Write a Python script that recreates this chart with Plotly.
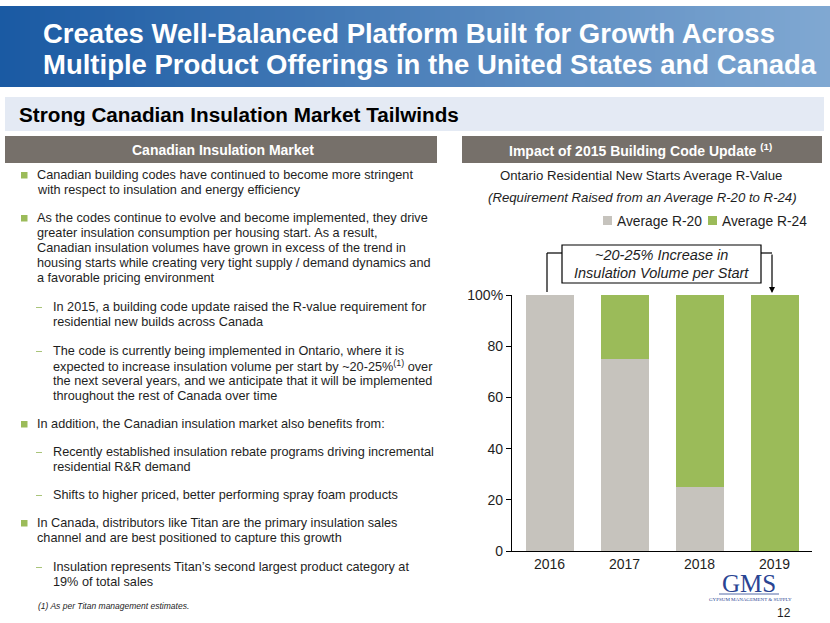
import plotly.graph_objects as go

# ---------------- data ----------------
years = ["2016", "2017", "2018", "2019"]
share_r20 = [100, 75, 25, 0]
share_r24 = [0, 25, 75, 100]
series_names = ["Average R-20", "Average R-24"]
y_tick_vals = [0, 20, 40, 60, 80, 100]
y_tick_text = ["0", "20", "40", "60", "80", "100%"]

title_lines = [
    "Creates Well-Balanced Platform Built for Growth Across",
    "Multiple Product Offerings in the United States and Canada",
]
section_title = "Strong Canadian Insulation Market Tailwinds"
left_header = "Canadian Insulation Market"
right_header = "Impact of 2015 Building Code Update <sup>(1)</sup>"
chart_title = "Ontario Residential New Starts Average R-Value"
chart_subtitle = "(Requirement Raised from an Average R-20 to R-24)"
callout_lines = ["~20-25% Increase in", "Insulation Volume per Start"]
footnote = "(1) As per Titan management estimates."

# (kind, y-position in px, text)  kind: b=bullet start, c=continuation, d=dash start, s=dash continuation
body_lines = [
    ("b", 175, "Canadian building codes have continued to become more stringent"),
    ("c", 190, "with respect to insulation and energy efficiency"),
    ("b", 218, "As the codes continue to evolve and become implemented, they drive"),
    ("c", 233, "greater insulation consumption per housing start. As a result,"),
    ("c", 248, "Canadian insulation volumes have grown in excess of the trend in"),
    ("c", 263, "housing starts while creating very tight supply / demand dynamics and"),
    ("c", 278, "a favorable pricing environment"),
    ("d", 307, "In 2015, a building code update raised the R-value requirement for"),
    ("s", 322, "residential new builds across Canada"),
    ("d", 351, "The code is currently being implemented in Ontario, where it is"),
    ("s", 366, "expected to increase insulation volume per start by ~20-25%<sup>(1)</sup> over"),
    ("s", 381, "the next several years, and we anticipate that it will be implemented"),
    ("s", 396, "throughout the rest of Canada over time"),
    ("b", 424, "In addition, the Canadian insulation market also benefits from:"),
    ("d", 452, "Recently established insulation rebate programs driving incremental"),
    ("s", 467, "residential R&R demand"),
    ("d", 495, "Shifts to higher priced, better performing spray foam products"),
    ("b", 523, "In Canada, distributors like Titan are the primary insulation sales"),
    ("c", 538, "channel and are best positioned to capture this growth"),
    ("d", 567, "Insulation represents Titan\u2019s second largest product category at"),
    ("s", 582, "19% of total sales"),
]

# ---------------- helpers ----------------
W, H = 830, 623
def px(x):
    return x / W
def py(y):
    return 1 - y / H

FONT = "Arial, Liberation Sans, sans-serif"
GRAY_BAR = "#c6c3bd"
GREEN = "#9bbb59"
HEADER = "#76706a"
TXT = "#1e1e1e"

fig = go.Figure()
fig.add_trace(go.Bar(x=years, y=share_r20, name=series_names[0],
                     marker=dict(color=GRAY_BAR, line=dict(width=0)), showlegend=False))
fig.add_trace(go.Bar(x=years, y=share_r24, name=series_names[1],
                     marker=dict(color=GREEN, line=dict(width=0)), showlegend=False))

shapes = []
annotations = []

# title banner gradient
N = 166
c0 = (26, 90, 163)
c1 = (128, 168, 210)
for i in range(N):
    t = i / (N - 1)
    col = tuple(int(round(c0[k] + (c1[k] - c0[k]) * t)) for k in range(3))
    x0 = W * i / N
    x1 = W * (i + 1) / N + 0.6
    shapes.append(dict(type="rect", xref="paper", yref="paper",
                       x0=px(x0), x1=px(min(x1, W)), y0=py(87), y1=py(6),
                       fillcolor="rgb(%d,%d,%d)" % col, line=dict(width=0), layer="below"))
for i, line in enumerate(title_lines):
    annotations.append(dict(xref="paper", yref="paper", x=px(41), y=py(33.5 + 31 * i),
                            xanchor="left", yanchor="middle", showarrow=False, text="<b>%s</b>" % line,
                            font=dict(family=FONT, size=27.5, color="white")))

# section band
shapes.append(dict(type="rect", xref="paper", yref="paper", x0=px(5), x1=px(824), y0=py(131), y1=py(97),
                   fillcolor="#e4eaf4", line=dict(width=0), layer="below"))
annotations.append(dict(xref="paper", yref="paper", x=px(17), y=py(115), xanchor="left", yanchor="middle",
                        showarrow=False, text="<b>%s</b>" % section_title,
                        font=dict(family=FONT, size=20.7, color="black")))

# header bars
shapes.append(dict(type="rect", xref="paper", yref="paper", x0=px(5), x1=px(437), y0=py(163), y1=py(136),
                   fillcolor=HEADER, line=dict(width=0), layer="below"))
shapes.append(dict(type="rect", xref="paper", yref="paper", x0=px(462), x1=px(822), y0=py(163), y1=py(136),
                   fillcolor=HEADER, line=dict(width=0), layer="below"))
annotations.append(dict(xref="paper", yref="paper", x=px(223), y=py(150), xanchor="center", yanchor="middle",
                        showarrow=False, text="<b>%s</b>" % left_header,
                        font=dict(family=FONT, size=14, color="white")))
annotations.append(dict(xref="paper", yref="paper", x=px(640), y=py(150), xanchor="center", yanchor="middle",
                        showarrow=False, text="<b>%s</b>" % right_header,
                        font=dict(family=FONT, size=14, color="white")))

# body text
for kind, yy, text in body_lines:
    if kind == "b":
        shapes.append(dict(type="rect", xref="paper", yref="paper", x0=px(21), x1=px(27.5),
                           y0=py(yy + 3.5), y1=py(yy - 3), fillcolor=GREEN, line=dict(width=0)))
    if kind == "d":
        shapes.append(dict(type="line", xref="paper", yref="paper", x0=px(36), x1=px(42),
                           y0=py(yy + 0.5), y1=py(yy + 0.5), line=dict(color="#a9c47a", width=1)))
    xx = 35 if kind in ("b", "c") else 51
    annotations.append(dict(xref="paper", yref="paper", x=px(xx), y=py(yy), xanchor="left", yanchor="middle",
                            showarrow=False, text=text, font=dict(family=FONT, size=12.7, color=TXT)))
annotations.append(dict(xref="paper", yref="paper", x=px(36), y=py(606), xanchor="left", yanchor="middle",
                        showarrow=False, text="<i>%s</i>" % footnote,
                        font=dict(family=FONT, size=8.5, color=TXT)))

# chart titles
annotations.append(dict(xref="paper", yref="paper", x=px(641), y=py(175), xanchor="center", yanchor="middle",
                        showarrow=False, text=chart_title, font=dict(family=FONT, size=13.2, color=TXT)))
annotations.append(dict(xref="paper", yref="paper", x=px(642), y=py(197), xanchor="center", yanchor="middle",
                        showarrow=False, text="<i>%s</i>" % chart_subtitle,
                        font=dict(family=FONT, size=13.2, color=TXT)))

# custom legend
for (x0, name, col) in [(603, series_names[0], GRAY_BAR), (708, series_names[1], GREEN)]:
    shapes.append(dict(type="rect", xref="paper", yref="paper", x0=px(x0), x1=px(x0 + 9),
                       y0=py(225), y1=py(216), fillcolor=col, line=dict(width=0)))
    annotations.append(dict(xref="paper", yref="paper", x=px(x0 + 12), y=py(221), xanchor="left",
                            yanchor="middle", showarrow=False, text=name,
                            font=dict(family=FONT, size=13.8, color=TXT)))

# callout box and connectors
shapes.append(dict(type="rect", xref="paper", yref="paper", x0=px(562), x1=px(761), y0=py(283), y1=py(245),
                   fillcolor="white", line=dict(color="black", width=1.2)))
shapes.append(dict(type="line", xref="paper", yref="paper", x0=px(547), x1=px(547), y0=py(253), y1=py(292),
                   line=dict(color="black", width=1.2)))
shapes.append(dict(type="line", xref="paper", yref="paper", x0=px(547), x1=px(562), y0=py(253), y1=py(253),
                   line=dict(color="black", width=1.2)))
shapes.append(dict(type="line", xref="paper", yref="paper", x0=px(761), x1=px(772), y0=py(253), y1=py(253),
                   line=dict(color="black", width=1.2)))
annotations.append(dict(xref="paper", yref="paper", x=px(772), y=py(293), ax=0, ay=-40, axref="pixel",
                        ayref="pixel", showarrow=True, arrowhead=2, arrowsize=1, arrowwidth=1.2,
                        arrowcolor="black", text=""))
for i, line in enumerate(callout_lines):
    annotations.append(dict(xref="paper", yref="paper", x=px(661.5), y=py(255 + 18 * i), xanchor="center",
                            yanchor="middle", showarrow=False, text="<i>%s</i>" % line,
                            font=dict(family=FONT, size=14.5, color=TXT)))

# logo + page number
annotations.append(dict(xref="paper", yref="paper", x=px(749), y=py(583), xanchor="center", yanchor="middle",
                        showarrow=False, text="GMS",
                        font=dict(family="Liberation Serif, DejaVu Serif, serif", size=25, color="#2a4493")))
shapes.append(dict(type="line", xref="paper", yref="paper", x0=px(719), x1=px(779), y0=py(594), y1=py(594),
                   line=dict(color="#2a4493", width=0.8)))
annotations.append(dict(xref="paper", yref="paper", x=px(750), y=py(599), xanchor="center", yanchor="middle",
                        showarrow=False, text="GYPSUM MANAGEMENT &amp; SUPPLY",
                        font=dict(family="Liberation Serif, DejaVu Serif, serif", size=5, color="#2a4493")))
annotations.append(dict(xref="paper", yref="paper", x=px(784), y=py(613), xanchor="center", yanchor="middle",
                        showarrow=False, text="12", font=dict(family=FONT, size=12, color=TXT)))

fig.update_layout(
    width=W, height=H, autosize=False,
    margin=dict(l=0, r=0, t=0, b=0, pad=0),
    paper_bgcolor="white", plot_bgcolor="white",
    barmode="stack", bargap=0.36,
    showlegend=False,
    shapes=shapes, annotations=annotations,
    xaxis=dict(domain=[px(512), px(812)], range=[-0.5, 3.5], showline=True, linecolor="black", linewidth=1.2,
               ticks="", showgrid=False, zeroline=False, automargin=False,
               tickfont=dict(family=FONT, size=14, color=TXT)),
    yaxis=dict(domain=[py(551), py(295)], range=[0, 100], showline=True, linecolor="black", linewidth=1.2,
               ticks="outside", ticklen=5, tickcolor="black", tickwidth=1.2, automargin=False,
               tickvals=y_tick_vals, ticktext=y_tick_text, showgrid=False, zeroline=False,
               tickfont=dict(family=FONT, size=14, color=TXT)),
)

fig.write_html("out.html", config={"displayModeBar": False},
               post_script="document.body.style.margin='0px';document.body.style.overflow='hidden';")
